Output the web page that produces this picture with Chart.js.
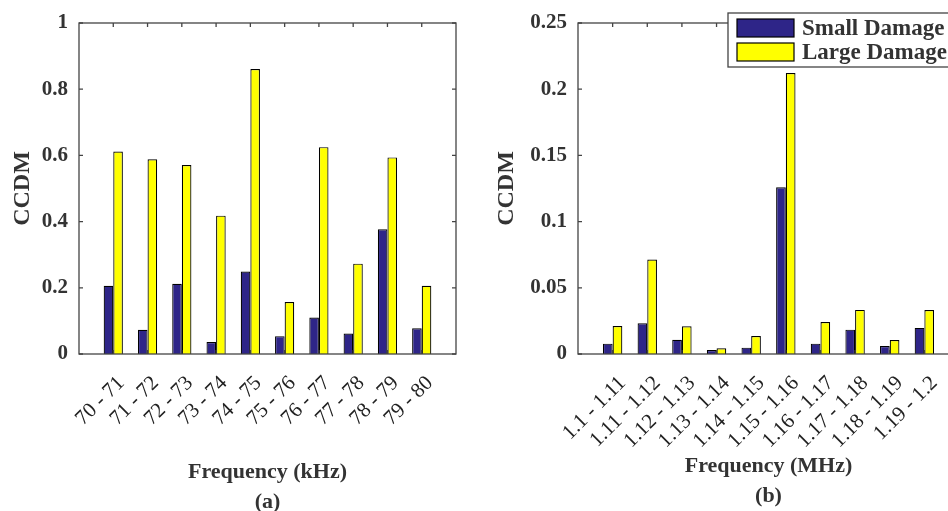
<!DOCTYPE html>
<html>
<head>
<meta charset="utf-8">
<script src="https://cdn.jsdelivr.net/npm/chart.js@4.4.1/dist/chart.umd.min.js"></script>
<style>
  body { margin: 0; background: #fff; overflow: hidden; width: 948px; height: 511px; position: relative; }
  #wrapA { position: absolute; left: 0; top: 0; width: 480px; height: 511px; }
  #wrapB { position: absolute; left: 480px; top: 0; width: 500px; height: 511px; }
</style>
</head>
<body>
<div id="wrapA"><canvas id="chartA"></canvas></div>
<div id="wrapB"><canvas id="chartB"></canvas></div>
<script>
// frequency bands (tick labels)
const bandsKHz = ['70 - 71', '71 - 72', '72 - 73', '73 - 74', '74 - 75', '75 - 76', '76 - 77', '77 - 78', '78 - 79', '79 - 80'];
const bandsMHz = ['1.1 - 1.11', '1.11 - 1.12', '1.12 - 1.13', '1.13 - 1.14', '1.14 - 1.15', '1.15 - 1.16', '1.16 - 1.17', '1.17 - 1.18', '1.18 - 1.19', '1.19 - 1.2'];

// CCDM values
const smallKHz = [0.206, 0.073, 0.212, 0.036, 0.249, 0.054, 0.110, 0.062, 0.377, 0.078];
const largeKHz = [0.612, 0.588, 0.571, 0.418, 0.861, 0.157, 0.625, 0.273, 0.594, 0.206];
const smallMHz = [0.0078, 0.0232, 0.0108, 0.0030, 0.0048, 0.1260, 0.0078, 0.0184, 0.0060, 0.0197];
const largeMHz = [0.0212, 0.0713, 0.0210, 0.0043, 0.0136, 0.2122, 0.0242, 0.0333, 0.0106, 0.0332];

const seriesNames = ['Small Damage', 'Large Damage'];

const BLUE = '#2e2588';
const YELLOW = '#ffff00';
const AXIS = '#444444';
const TEXT = '#333333';
const SERIF = '"Liberation Serif", "DejaVu Serif", serif';

// draw the MATLAB style box with inward ticks
const framePlugin = {
    id: 'frame',
    afterDatasetsDraw(chart) {
        const { ctx, chartArea: a } = chart;
        const x = chart.scales.x, y = chart.scales.y;
        ctx.save();
        ctx.strokeStyle = AXIS;
        ctx.lineWidth = 1.3;
        ctx.strokeRect(a.left, a.top, a.right - a.left, a.bottom - a.top);
        ctx.beginPath();
        x.ticks.forEach(t => {
            if (t.value < 1 || t.value > 10) return;
            const px = x.getPixelForValue(t.value);
            ctx.moveTo(px, a.bottom); ctx.lineTo(px, a.bottom - 4);
            ctx.moveTo(px, a.top); ctx.lineTo(px, a.top + 4);
        });
        y.ticks.forEach(t => {
            const py = y.getPixelForValue(t.value);
            ctx.moveTo(a.left, py); ctx.lineTo(a.left + 4, py);
            ctx.moveTo(a.right, py); ctx.lineTo(a.right - 4, py);
        });
        ctx.stroke();
        ctx.restore();
    }
};

// legend box in the top right corner of the second plot
const boxLegend = {
    id: 'boxLegend',
    afterDraw(chart, args, opts) {
        if (!opts.show) return;
        const { ctx, chartArea: a } = chart;
        const left = a.right - 231, top = a.top - 10;
        ctx.save();
        ctx.fillStyle = '#fff';
        ctx.fillRect(left, top, 260, 54);
        ctx.strokeStyle = AXIS;
        ctx.lineWidth = 1.3;
        ctx.strokeRect(left, top, 260, 54);
        ctx.font = 'bold 23px ' + SERIF;
        ctx.textBaseline = 'alphabetic';
        chart.data.datasets.forEach((ds, i) => {
            const sy = top + 6 + i * 24;
            ctx.fillStyle = ds.backgroundColor;
            ctx.fillRect(left + 9, sy, 57, 18);
            ctx.strokeStyle = '#000';
            ctx.lineWidth = 1.2;
            ctx.strokeRect(left + 9, sy, 57, 18);
            ctx.fillStyle = TEXT;
            ctx.fillText(ds.label, left + 74, sy + 16);
        });
        ctx.restore();
    }
};

function makeChart(id, bands, small, large, yMax, yStep, xTitle, opt) {
    const toPts = vals => vals.map((v, i) => ({ x: i + 1, y: v }));
    return new Chart(document.getElementById(id), {
        type: 'bar',
        data: {
            datasets: [
                { label: seriesNames[0], data: toPts(small), backgroundColor: BLUE, borderColor: '#000', borderWidth: 1.2 },
                { label: seriesNames[1], data: toPts(large), backgroundColor: YELLOW, borderColor: '#000', borderWidth: 1.2 }
            ]
        },
        options: {
            responsive: true,
            maintainAspectRatio: false,
            animation: false,
            datasets: { bar: { barPercentage: 1, categoryPercentage: 0.56 } },
            layout: { padding: { top: 23, right: opt.right, left: 0, bottom: 0 } },
            plugins: {
                legend: { display: false },
                tooltip: { enabled: false },
                boxLegend: { show: opt.legend }
            },
            scales: {
                x: {
                    type: 'linear',
                    min: 0,
                    max: 11,
                    offset: false,
                    grid: { display: false, drawTicks: false },
                    border: { display: false },
                    ticks: {
                        stepSize: 1,
                        autoSkip: false,
                        minRotation: 45,
                        maxRotation: 45,
                        padding: 17,
                        labelOffset: opt.labelOffset,
                        color: '#222',
                        font: { family: SERIF, size: 21 },
                        callback: v => bands[v - 1] || ''
                    },
                    title: {
                        display: true,
                        text: xTitle,
                        color: TEXT,
                        font: { family: SERIF, size: 22, weight: 'bold', lineHeight: '30px' },
                        padding: { top: 0, bottom: opt.titleBottom }
                    },
                    afterFit: s => {
                        s.height = 511 - 354;
                        s.paddingLeft = 0;
                        s.paddingRight = 0;
                    }
                },
                y: {
                    min: 0,
                    max: yMax,
                    grid: { display: false, drawTicks: false },
                    border: { display: false },
                    ticks: {
                        stepSize: yStep,
                        padding: 11,
                        color: TEXT,
                        font: { family: SERIF, size: 21, weight: 'bold' },
                        callback: v => String(+v.toFixed(3))
                    },
                    title: {
                        display: true,
                        text: 'CCDM',
                        color: TEXT,
                        font: { family: SERIF, size: 24, weight: 'bold', lineHeight: 1.2 },
                        padding: { top: opt.yTitleTop, bottom: 0 }
                    },
                    afterFit: s => {
                        s.width = opt.left;
                        s.paddingTop = 0;
                        s.paddingBottom = 0;
                    }
                }
            }
        },
        plugins: [framePlugin, boxLegend]
    });
}

makeChart('chartA', bandsKHz, smallKHz, largeKHz, 1, 0.2, ['Frequency (kHz)', '(a)'],
    { right: 24, left: 79, titleBottom: -6, yTitleTop: 8, labelOffset: 8, legend: false });
makeChart('chartB', bandsMHz, smallMHz, largeMHz, 0.25, 0.05, ['Frequency (MHz)', '(b)'],
    { right: 21, left: 98, titleBottom: 0, yTitleTop: 12, labelOffset: 10, legend: true });
</script>
</body>
</html>
